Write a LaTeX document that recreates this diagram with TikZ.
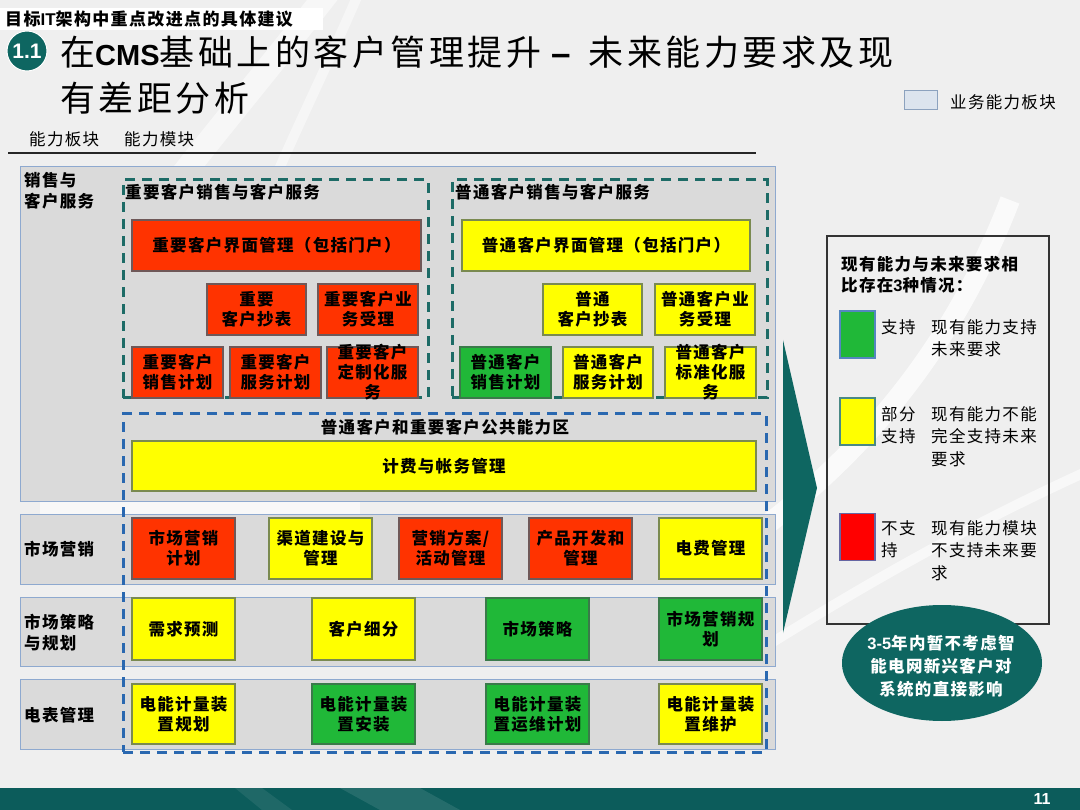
\documentclass[tikz,border=0pt]{standalone}
\usepackage{fontspec}
\setmainfont{Noto Sans CJK SC}[LetterSpace=8]
\newfontfamily\titlecjk{Noto Sans CJK SC}[LetterSpace=10]
\newfontfamily\latf{Liberation Sans}
\usetikzlibrary{shapes.geometric}
\definecolor{cbg}{HTML}{EFEFEF}
\definecolor{cband}{HTML}{DADADA}
\definecolor{cbandb}{HTML}{8EA9CF}
\definecolor{cred}{HTML}{FF3300}
\definecolor{credb}{HTML}{6F5858}
\definecolor{cyel}{HTML}{FFFF00}
\definecolor{cyelb}{HTML}{7A8A50}
\definecolor{cgrn}{HTML}{20B838}
\definecolor{cgrnb}{HTML}{3A7A4A}
\definecolor{cteal}{HTML}{1D6B66}
\definecolor{cblue}{HTML}{2A68B0}
\definecolor{cteal2}{HTML}{0E6661}
\definecolor{cfoot}{HTML}{0C5C5B}
\definecolor{cleg}{HTML}{DCE4EE}
\definecolor{clegb}{HTML}{8CA2BE}
\definecolor{lred}{HTML}{FF0000}
\tikzset{
  sz/.style 2 args={minimum width=#1pt, minimum height=#2pt},
  cellbase/.style={rectangle, inner sep=0pt, line width=1.1pt, align=center,
    font=\bfseries\fontsize{16.5pt}{20pt}\selectfont},
  rbox/.style={cellbase, fill=cred, draw=credb},
  ybox/.style={cellbase, fill=cyel, draw=cyelb},
  gbox/.style={cellbase, fill=cgrn, draw=cgrnb},
  celltext/.style={inner sep=0pt, align=center, font=\bfseries\fontsize{16.5pt}{20pt}\selectfont},
  band/.style={rectangle, inner sep=0pt, fill=cband, draw=cbandb, line width=1pt},
  tdash/.style={rectangle, inner sep=0pt, draw=cteal, line width=3pt, dash pattern=on 10pt off 7pt},
  bdash/.style={rectangle, inner sep=0pt, draw=cblue, line width=3pt, dash pattern=on 10pt off 7pt},
  lbl/.style={anchor=west, inner sep=0pt, align=left, font=\bfseries\fontsize{16.5pt}{21pt}\selectfont},
  ltxt/.style={anchor=west, inner sep=0pt, align=left, font=\fontsize{16.5pt}{22.5pt}\selectfont},
  legsq/.style={rectangle, inner sep=0pt, line width=1.2pt, sz={35}{47}},
}
\begin{document}
\begin{tikzpicture}[x=1pt,y=-1pt]
\useasboundingbox (0,0) rectangle (1080,810);
% background
\fill[cbg] (0,0) rectangle (1080,810);
\draw[white, opacity=.55, line width=24pt] (330,-10) .. controls (260,80) and (200,150) .. (140,230);
\draw[white, opacity=.45, line width=10pt] (360,-10) .. controls (330,60) and (300,120) .. (270,190);
\draw[white, opacity=.7, line width=20pt] (1010,200) .. controls (960,330) and (880,440) .. (760,530);
\draw[white, opacity=.6, line width=10pt] (1090,470) .. controls (980,520) and (880,575) .. (760,650);
\draw[white, opacity=.6, line width=14pt] (40,508) -- (360,508);
% footer
\fill[cfoot] (0,788) rectangle (1080,810);
\fill[white, opacity=.08] (235,788) -- (262,788) -- (292,810) -- (262,810) -- cycle;
\fill[white, opacity=.10] (340,788) -- (420,788) -- (460,810) -- (380,810) -- cycle;
\node[inner sep=0pt, text=white, font=\latf\bfseries\fontsize{16pt}{16pt}\selectfont] (pageno) at (1042,799) {11};
% crumb strip
\fill[white] (0,8) rectangle (323,30);
\node[anchor=west, inner sep=0pt, font=\bfseries\fontsize{17pt}{17pt}\selectfont] (crumb) at (5,19) {目标{\latf IT}架构中重点改进点的具体建议};
% title
\node[circle, fill=cteal2, draw=white, line width=1pt, minimum size=40pt, inner sep=0pt, text=white,
  font=\latf\bfseries\fontsize{21pt}{21pt}\selectfont] (num) at (27,51) {1.1};
\node[anchor=west, inner sep=0pt, font=\titlecjk\fontsize{35pt}{40pt}\selectfont] (title1) at (60,52)
  {在{\latf\bfseries\fontsize{29pt}{29pt}\selectfont CMS}基础上的客户管理提升\hspace{10pt}{\latf\bfseries –}\hspace{18pt}未来能力要求及现};
\node[anchor=west, inner sep=0pt, font=\titlecjk\fontsize{35pt}{40pt}\selectfont] (title2) at (60,98) {有差距分析};
% top legend
\node[rectangle, inner sep=0pt, fill=cleg, draw=clegb, line width=1pt, sz={33}{19}] (legsw) at (920.5,100.5) {};
\node[ltxt] (legtxt) at (950,102) {业务能力板块};
% column headers
\node[ltxt] (colA) at (29,139) {能力板块};
\node[ltxt] (colB) at (124,139) {能力模块};
\draw[line width=1.8pt, black!85] (8,153) -- (756,153);
% bands
\node[band, sz={755}{334}] (band1) at (397.5,334) {};
\node[band, sz={755}{70}] (band2) at (397.5,549) {};
\node[band, sz={755}{69}] (band3) at (397.5,631.5) {};
\node[band, sz={755}{70}] (band4) at (397.5,714) {};
\node[lbl] (l1) at (24,190.5) {销售与\\客户服务};
\node[lbl] (l2) at (24,549) {市场营销};
\node[lbl] (l3) at (24,632.5) {市场策略\\与规划};
\node[lbl] (l4) at (24,715) {电表管理};
% dashed groups
\node[tdash, sz={305}{218}] (g1) at (275.5,289) {};
\node[tdash, sz={315}{218}] (g2) at (609.5,289) {};
\node[bdash, sz={643}{338}] (g3) at (444.5,583) {};
\node[lbl] (g1t) at (125,192) {重要客户销售与客户服务};
\node[lbl] (g2t) at (455,192) {普通客户销售与客户服务};
\node[celltext] (g3t) at (445,427) {普通客户和重要客户公共能力区};
% important customers
\node[rbox, sz={289}{51}] (a1) at (276.5,245.5) {重要客户界面管理（包括门户）};
\node[rbox, sz={99}{51}] (a2) at (256.5,309.5) {重要\\客户抄表};
\node[rbox, sz={100}{51}] (a3) at (368,309.5) {重要客户业\\务受理};
\node[rbox, sz={91}{51}] (a4) at (177.5,372.5) {重要客户\\销售计划};
\node[rbox, sz={91}{51}] (a5) at (275.5,372.5) {重要客户\\服务计划};
\node[rbox, sz={91}{51}] (a6) at (372.5,372.5) {};
\node[celltext] (a6t) at (a6.center) {重要客户\\定制化服\\务};
% ordinary customers
\node[ybox, sz={288}{51}] (b1) at (606,245.5) {普通客户界面管理（包括门户）};
\node[ybox, sz={99}{51}] (b2) at (592.5,309.5) {普通\\客户抄表};
\node[ybox, sz={100}{51}] (b3) at (705,309.5) {普通客户业\\务受理};
\node[gbox, sz={91}{51}] (b4) at (505.5,372.5) {普通客户\\销售计划};
\node[ybox, sz={90}{51}] (b5) at (608,372.5) {普通客户\\服务计划};
\node[ybox, sz={91}{51}] (b6) at (710.5,372.5) {};
\node[celltext] (b6t) at (b6.center) {普通客户\\标准化服\\务};
% common
\node[ybox, sz={624}{50}] (c0) at (444,466) {计费与帐务管理};
% marketing
\node[rbox, sz={103}{61}] (c1) at (183.5,548.5) {市场营销\\计划};
\node[ybox, sz={103}{61}] (c2) at (320.5,548.5) {渠道建设与\\管理};
\node[rbox, sz={103}{61}] (c3) at (450.5,548.5) {营销方案/\\活动管理};
\node[rbox, sz={103}{61}] (c4) at (580.5,548.5) {产品开发和\\管理};
\node[ybox, sz={103}{61}] (c5) at (710.5,548.5) {电费管理};
% strategy
\node[ybox, sz={103}{62}] (d1) at (183.5,629) {需求预测};
\node[ybox, sz={103}{62}] (d2) at (363.5,629) {客户细分};
\node[gbox, sz={103}{62}] (d3) at (537.5,629) {市场策略};
\node[gbox, sz={103}{62}] (d4) at (710.5,629) {市场营销规\\划};
% meters
\node[ybox, sz={103}{60}] (e1) at (183.5,714) {电能计量装\\置规划};
\node[gbox, sz={103}{60}] (e2) at (363.5,714) {电能计量装\\置安装};
\node[gbox, sz={103}{60}] (e3) at (537.5,714) {电能计量装\\置运维计划};
\node[ybox, sz={103}{60}] (e4) at (710.5,714) {电能计量装\\置维护};
% chevron
\fill[cteal2] (783,340) -- (817,488) -- (783,633) -- cycle;
% right legend
\node[rectangle, inner sep=0pt, draw=black!80, line width=1.2pt, sz={222}{388}] (legend) at (938,430) {};
\node[lbl] (legt) at (841,275) {现有能力与未来要求相\\比存在{\latf\bfseries 3}种情况：};
\node[legsq, fill=cgrn, draw=cblue!80] (sqg) at (857.5,334.5) {};
\node[legsq, fill=cyel, draw=cteal!80] (sqy) at (857.5,421.5) {};
\node[legsq, fill=lred, draw=black!60!blue!60] (sqr) at (857.5,537) {};
\node[ltxt] (lg1) at (881,327) {支持};
\node[ltxt] (lg1d) at (931,338) {现有能力支持\\未来要求};
\node[ltxt] (lg2) at (881,425) {部分\\支持};
\node[ltxt] (lg2d) at (931,436.5) {现有能力不能\\完全支持未来\\要求};
\node[ltxt] (lg3) at (881,539) {不支\\持};
\node[ltxt] (lg3d) at (931,550.5) {现有能力模块\\不支持未来要\\求};
% oval
\node[ellipse, fill=cteal2, inner sep=0pt, sz={200}{116}] (oval) at (942,663) {};
\node[inner sep=0pt, align=center, text=white, font=\bfseries\fontsize{16.5pt}{23pt}\selectfont] (ovalt) at (941,666)
  {{\latf\bfseries 3-5}年内暂不考虑智\\能电网新兴客户对\\系统的直接影响};
\end{tikzpicture}
\end{document}
